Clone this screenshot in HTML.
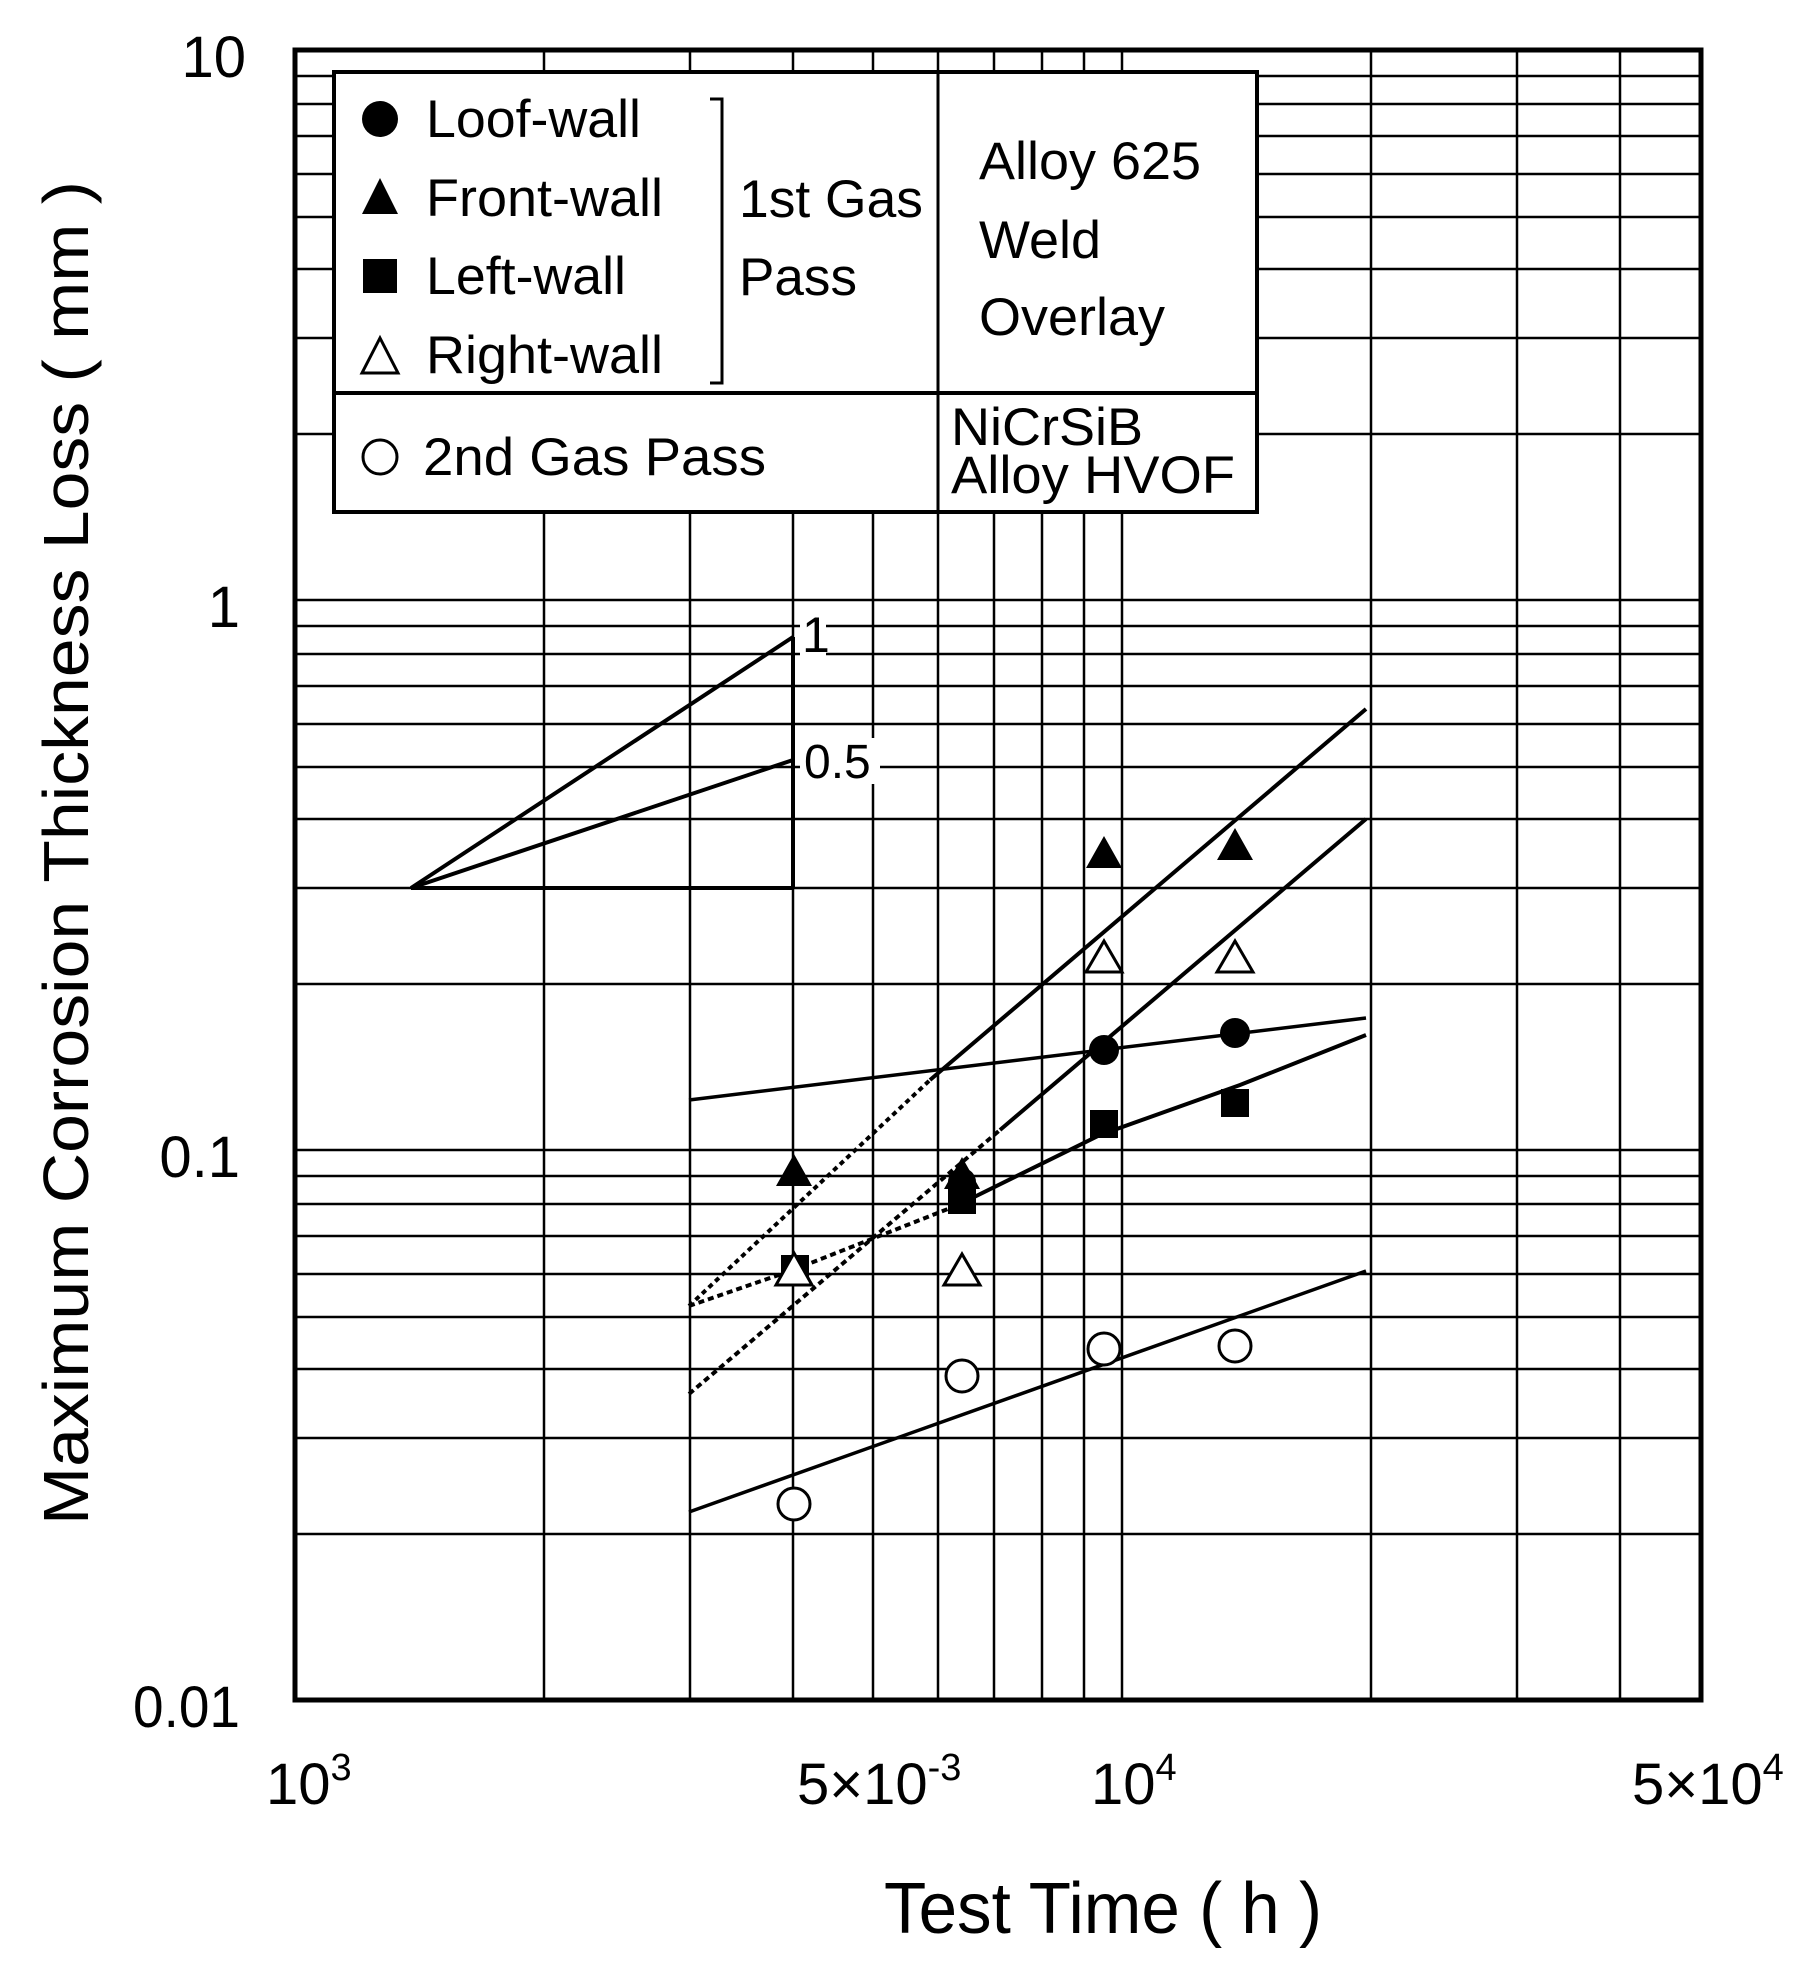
<!DOCTYPE html>
<html><head><meta charset="utf-8"><style>html,body{margin:0;padding:0;background:#fff}svg{display:block}</style></head>
<body>
<svg width="1801" height="1964" viewBox="0 0 1801 1964" xmlns="http://www.w3.org/2000/svg" font-family="Liberation Sans, Arial, sans-serif">
<rect width="1801" height="1964" fill="#fff"/>
<g stroke="#000" stroke-width="2.5" fill="none">
<line x1="544" y1="50" x2="544" y2="1700"/>
<line x1="690" y1="50" x2="690" y2="1700"/>
<line x1="793" y1="50" x2="793" y2="1700"/>
<line x1="873" y1="50" x2="873" y2="1700"/>
<line x1="938" y1="50" x2="938" y2="1700"/>
<line x1="994" y1="50" x2="994" y2="1700"/>
<line x1="1042" y1="50" x2="1042" y2="1700"/>
<line x1="1084" y1="50" x2="1084" y2="1700"/>
<line x1="1122" y1="50" x2="1122" y2="1700"/>
<line x1="1371" y1="50" x2="1371" y2="1700"/>
<line x1="1517" y1="50" x2="1517" y2="1700"/>
<line x1="1620" y1="50" x2="1620" y2="1700"/>
<line x1="295" y1="76" x2="1700" y2="76"/><line x1="295" y1="104" x2="1700" y2="104"/><line x1="295" y1="136" x2="1700" y2="136"/><line x1="295" y1="174" x2="1700" y2="174"/><line x1="295" y1="217" x2="1700" y2="217"/><line x1="295" y1="269" x2="1700" y2="269"/><line x1="295" y1="338" x2="1700" y2="338"/><line x1="295" y1="434" x2="1700" y2="434"/>
<line x1="295" y1="600" x2="1700" y2="600"/>
<line x1="295" y1="626" x2="1700" y2="626"/><line x1="295" y1="654" x2="1700" y2="654"/><line x1="295" y1="686" x2="1700" y2="686"/><line x1="295" y1="724" x2="1700" y2="724"/><line x1="295" y1="767" x2="1700" y2="767"/><line x1="295" y1="819" x2="1700" y2="819"/><line x1="295" y1="888" x2="1700" y2="888"/><line x1="295" y1="984" x2="1700" y2="984"/>
<line x1="295" y1="1150" x2="1700" y2="1150"/>
<line x1="295" y1="1176" x2="1700" y2="1176"/><line x1="295" y1="1204" x2="1700" y2="1204"/><line x1="295" y1="1236" x2="1700" y2="1236"/><line x1="295" y1="1274" x2="1700" y2="1274"/><line x1="295" y1="1317" x2="1700" y2="1317"/><line x1="295" y1="1369" x2="1700" y2="1369"/><line x1="295" y1="1438" x2="1700" y2="1438"/><line x1="295" y1="1534" x2="1700" y2="1534"/>
</g>
<rect x="295" y="50" width="1406" height="1650" fill="none" stroke="#000" stroke-width="5"/>

<rect x="334" y="72" width="923" height="440" fill="#fff" stroke="#000" stroke-width="4"/>
<line x1="938" y1="72" x2="938" y2="512" stroke="#000" stroke-width="3"/>
<line x1="334" y1="393" x2="1257" y2="393" stroke="#000" stroke-width="4"/>
<polyline points="710,99 722,99 722,383 710,383" fill="none" stroke="#000" stroke-width="3"/>
<circle cx="380" cy="119" r="18" fill="#000"/>
<polygon points="380,178 398,214 362,214" fill="#000"/>
<rect x="363" y="259" width="34" height="34" fill="#000"/>
<polygon points="380,338 398,373 362,373" fill="none" stroke="#000" stroke-width="3"/>
<circle cx="380" cy="457" r="17" fill="none" stroke="#000" stroke-width="3"/>
<g font-size="53" fill="#000">
<text x="426" y="137" textLength="215" lengthAdjust="spacingAndGlyphs">Loof-wall</text>
<text x="426" y="216" textLength="237" lengthAdjust="spacingAndGlyphs">Front-wall</text>
<text x="426" y="294" textLength="200" lengthAdjust="spacingAndGlyphs">Left-wall</text>
<text x="426" y="373" textLength="237" lengthAdjust="spacingAndGlyphs">Right-wall</text>
<text x="739" y="217" textLength="184" lengthAdjust="spacingAndGlyphs">1st Gas</text>
<text x="739" y="295" textLength="118" lengthAdjust="spacingAndGlyphs">Pass</text>
<text x="979" y="179" textLength="222" lengthAdjust="spacingAndGlyphs">Alloy 625</text>
<text x="979" y="258" textLength="122" lengthAdjust="spacingAndGlyphs">Weld</text>
<text x="979" y="335" textLength="186" lengthAdjust="spacingAndGlyphs">Overlay</text>
<text x="423" y="475" textLength="343" lengthAdjust="spacingAndGlyphs">2nd Gas Pass</text>
<text x="951" y="445" textLength="192" lengthAdjust="spacingAndGlyphs">NiCrSiB</text>
<text x="951" y="493" textLength="284" lengthAdjust="spacingAndGlyphs">Alloy HVOF</text>
</g>

<g stroke="#000" stroke-width="4" fill="none">
<line x1="411" y1="888" x2="793" y2="888"/>
<line x1="793" y1="637" x2="793" y2="888"/>
<line x1="411" y1="888" x2="793" y2="637"/>
<line x1="411" y1="888" x2="793" y2="760"/>
</g>
<rect x="800" y="610" width="26" height="46" fill="#fff"/>
<text x="802" y="652" font-size="50">1</text>
<rect x="800" y="738" width="80" height="46" fill="#fff"/>
<text x="804" y="778" font-size="48">0.5</text>

<g stroke="#000" stroke-width="4" fill="none">
<line x1="689" y1="1306" x2="930" y2="1080" stroke-dasharray="5,4"/>
<line x1="930" y1="1080" x2="1366" y2="709"/>
<line x1="689" y1="1394" x2="1000" y2="1130" stroke-dasharray="6,4"/>
<line x1="1000" y1="1130" x2="1366" y2="819"/>
<line x1="689" y1="1100" x2="1366" y2="1018" stroke-width="3.5"/>
<polyline points="689,1306 793,1270 958,1205" stroke-dasharray="6,4"/>
<polyline points="958,1205 1100,1135 1240,1085 1366,1035"/>
<line x1="689" y1="1512" x2="1366" y2="1271" stroke-width="3.5"/>
</g>

<g fill="#000">
<polygon points="794,1154 812,1186 776,1186"/>
<polygon points="962,1157 980,1189 944,1189"/>
<polygon points="1104,836 1122,868 1086,868"/>
<polygon points="1235,828 1253,860 1217,860"/>
<circle cx="962" cy="1182" r="14"/>
<circle cx="1104" cy="1050" r="15"/>
<circle cx="1235" cy="1033" r="15"/>
<rect x="781" y="1255" width="28" height="28"/>
<rect x="948" y="1186" width="28" height="28"/>
<rect x="1090" y="1110" width="28" height="28"/>
<rect x="1221" y="1089" width="28" height="28"/>
</g>
<g fill="#fff" stroke="#000" stroke-width="3">
<polygon points="794,1253 812,1285 776,1285"/>
<polygon points="962,1254 980,1285 944,1285"/>
<polygon points="1104,941 1122,972 1086,972"/>
<polygon points="1235,941 1253,972 1217,972"/>
<circle cx="794" cy="1504" r="16"/>
<circle cx="962" cy="1376" r="16"/>
<circle cx="1104" cy="1349" r="16"/>
<circle cx="1235" cy="1346" r="16"/>
</g>

<g font-size="58" fill="#000" text-anchor="end">
<text x="246" y="77">10</text>
<text x="240" y="627">1</text>
<text x="240" y="1177">0.1</text>
<text x="240" y="1727" textLength="107" lengthAdjust="spacingAndGlyphs">0.01</text>
</g>
<g font-size="58" fill="#000">
<text x="266" y="1804">10<tspan font-size="38" dy="-24">3</tspan></text>
<text x="797" y="1804">5×10<tspan font-size="38" dy="-24">-3</tspan></text>
<text x="1091" y="1804">10<tspan font-size="38" dy="-24">4</tspan></text>
<text x="1632" y="1804">5×10<tspan font-size="38" dy="-24">4</tspan></text>
</g>
<text x="884" y="1933" font-size="72" textLength="438" lengthAdjust="spacingAndGlyphs">Test Time ( h )</text>
<text transform="translate(88,1525) rotate(-90)" font-size="64" textLength="1344" lengthAdjust="spacingAndGlyphs">Maximum Corrosion Thickness Loss ( mm )</text>
</svg>
</body></html>
